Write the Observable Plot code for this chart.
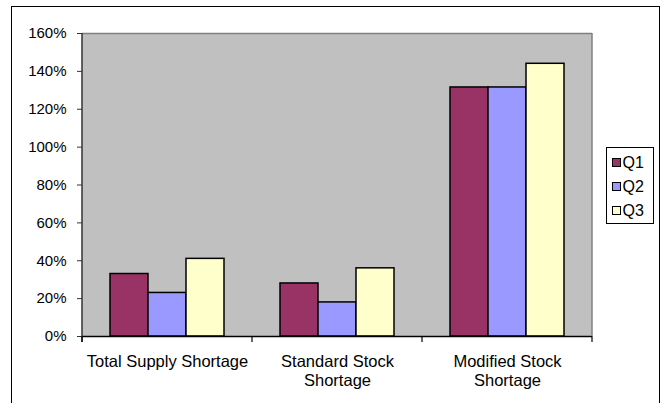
<!DOCTYPE html>
<html><head><meta charset="utf-8">
<script src="https://cdn.jsdelivr.net/npm/d3@7"></script>
<script src="https://cdn.jsdelivr.net/npm/@observablehq/plot@0.6"></script>
<style>
html,body{margin:0;padding:0;background:#fff;}
#wrap{position:relative;width:664px;height:403px;overflow:hidden;font-family:"Liberation Sans",Arial,sans-serif;}
#wrap svg{position:absolute;left:0;top:0;}
#border{position:absolute;left:10.5px;top:6px;width:649px;height:430px;border:1.5px solid #000;box-sizing:border-box;pointer-events:none}
#legend{position:absolute;left:605.5px;top:146.5px;width:48.5px;height:77px;border:1px solid #000;box-sizing:border-box;background:#fff}
.item{position:absolute;left:5px;display:flex;align-items:center;font-size:16px;height:20px;color:#000}
.sw{width:7px;height:7px;border:1px solid #000;margin-right:2px}
</style></head><body>
<div id="wrap"><div id="border"></div><div id="legend"></div></div>
<script>
const categories = ["Total Supply Shortage", "Standard Stock Shortage", "Modified Stock Shortage"];
const categoryLabels = ["Total Supply Shortage", "Standard Stock\nShortage", "Modified Stock\nShortage"];
const series = ["Q1", "Q2", "Q3"];
const q1 = [0.33, 0.28, 1.315];
const q2 = [0.23, 0.18, 1.315];
const q3 = [0.41, 0.36, 1.44];
const colors = ["#993366", "#9999FF", "#FFFFCC"];
const yTicks = [0, 0.2, 0.4, 0.6, 0.8, 1.0, 1.2, 1.4, 1.6];

const seriesValues = [q1, q2, q3];
const data = categories.flatMap((c, i) => series.map((s, j) => ({category: c, series: s, value: seriesValues[j][i]})));

const chart = Plot.plot({
  width: 664, height: 403,
  marginLeft: 82, marginRight: 72, marginTop: 33, marginBottom: 67,
  style: {fontFamily: "Liberation Sans, Arial, sans-serif", background: "transparent", color: "#000"},
  fx: {domain: categories, padding: 0, axis: null, label: null},
  x: {domain: series, paddingInner: 0, paddingOuter: 0.725, axis: null},
  y: {domain: [0, 1.6], axis: null, label: null},
  color: {domain: series, range: colors},
  marks: [
    Plot.ruleY([1.6], {stroke: "#808080", strokeWidth: 1.5}),
    Plot.barY(data, {fx: "category", x: "series", y: "value", fill: "series", stroke: "#000", strokeWidth: 1.5}),
    Plot.ruleY([0], {stroke: "#000", strokeWidth: 1.5}),
    Plot.axisY({ticks: yTicks, tickFormat: d3.format(".0%"), tickSize: 5, tickPadding: 11, fontSize: 15, label: null, stroke: "#333"}),
    Plot.axisFx({anchor: "bottom", tickSize: 0, tickPadding: 17, fontSize: 16.5, lineHeight: 1.15, label: null,
      tickFormat: c => categoryLabels[categories.indexOf(c)]})
  ]
});

document.getElementById("wrap").insertBefore(chart, document.getElementById("border"));

// plot-area background, edges and category boundary ticks, derived from the scales
const fxs = chart.scale("fx"), ys = chart.scale("y");
const y0 = ys.apply(0), yTop = ys.apply(1.6);
const leftX = fxs.apply(categories[0]);
const rightX = fxs.apply(categories[categories.length - 1]) + fxs.bandwidth;
const svg = d3.select(chart);
svg.insert("rect", ":first-child").attr("x", leftX).attr("y", yTop).attr("width", rightX - leftX).attr("height", y0 - yTop).attr("fill", "#c0c0c0");
const g = svg.append("g");
g.append("line").attr("x1", rightX).attr("x2", rightX).attr("y1", yTop).attr("y2", y0).attr("stroke", "#808080").attr("stroke-width", 1.5);
g.append("line").attr("x1", leftX).attr("x2", leftX).attr("y1", yTop).attr("y2", y0 + 6).attr("stroke", "#333").attr("stroke-width", 1.5);
const bounds = categories.map(c => fxs.apply(c)).concat([rightX]);
g.selectAll("line.b").data(bounds).join("line").attr("class", "b")
  .attr("x1", d => d).attr("x2", d => d).attr("y1", y0).attr("y2", y0 + 6).attr("stroke", "#000").attr("stroke-width", 1.2);

// legend
const legend = document.getElementById("legend");
series.forEach((s, i) => {
  const it = document.createElement("div");
  it.className = "item";
  it.style.top = (5 + i * 24) + "px";
  const sw = document.createElement("div");
  sw.className = "sw";
  sw.style.background = colors[i];
  it.appendChild(sw);
  it.appendChild(document.createTextNode(s));
  legend.appendChild(it);
});
</script>
</body></html>
